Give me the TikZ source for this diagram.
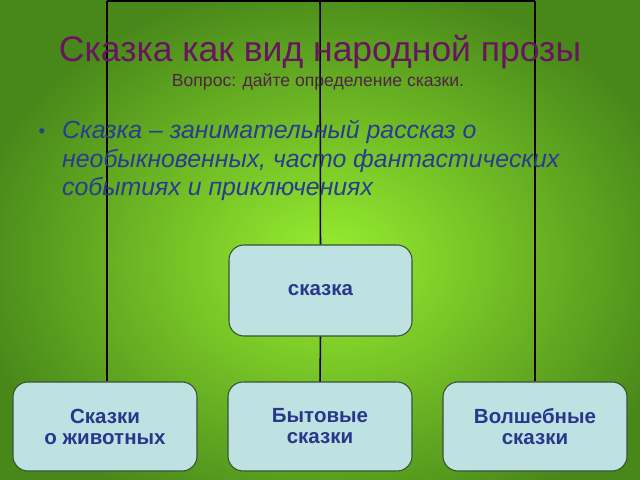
\documentclass[tikz,border=0pt]{standalone}
\usepackage{fontspec}
\setmainfont{Liberation Sans}
\definecolor{bgin}{RGB}{152,238,48}
\definecolor{bgout}{RGB}{72,136,26}
\definecolor{titlec}{RGB}{105,20,95}
\definecolor{subc}{RGB}{80,35,70}
\definecolor{bodyc}{RGB}{40,60,145}
\definecolor{boxfill}{RGB}{190,225,225}
\definecolor{boxline}{RGB}{55,80,50}
\definecolor{boxtext}{RGB}{40,55,140}
\begin{document}
\begin{tikzpicture}[x=0.03cm,y=-0.03cm,
  box/.style={draw=boxline, line width=0.9pt, fill=boxfill, rounded corners=0.45cm,
    text=boxtext, font=\fontsize{17.5}{18}\selectfont\bfseries, align=center},
  conn/.style={draw=black, line width=1.3pt},
  body/.style={text=bodyc, font=\fontsize{21.2}{24}\selectfont\itshape, anchor=base west, inner sep=0pt}]
\useasboundingbox (0,0) rectangle (640,480);
\shade[inner color=bgin, outer color=bgout] (-30,-20) rectangle (690,540);
% boxes
\node[box, minimum width=5.49cm, minimum height=2.73cm] (root) at (320.5,290.5) {сказка};
\node[box, minimum width=5.52cm, minimum height=2.67cm] (a) at (105,426.5) {Сказки\\о животных};
\node[box, minimum width=5.52cm, minimum height=2.67cm] (b) at (320,426.5) {Бытовые\\сказки};
\node[box, minimum width=5.52cm, minimum height=2.67cm] (c) at (535,426.5) {Волшебные\\сказки};
% connectors
\coordinate (tl) at (107,1);
\coordinate (tm) at (320,1);
\coordinate (tr) at (535,1);
\draw[conn] (tl) -- (tr);
\draw[conn] (tl) -- (tl |- a.north);
\draw[conn] (tr) -- (tr |- c.north);
\draw[conn] (tm) -- (root.north);
\draw[conn] (root.south) -- (b.north);
% texts
\node[text=titlec, font=\fontsize{30.3}{34}\selectfont, anchor=base, inner sep=0pt] (title) at (320,62) {Сказка как вид народной прозы};
\node[text=subc, font=\fontsize{15}{18}\selectfont, anchor=base, inner sep=0pt] (sub) at (318,87) {Вопрос: дайте определение сказки.};
\node[text=bodyc, font=\fontsize{16}{20}\selectfont, anchor=base, inner sep=0pt] (bul) at (42,138) {•};
\node[body] (l1) at (62,139) {Сказка – занимательный рассказ о};
\node[body] (l2) at (62,167.5) {необыкновенных, часто фантастических};
\node[body] (l3) at (62,196) {событиях и приключениях};
\end{tikzpicture}
\end{document}
